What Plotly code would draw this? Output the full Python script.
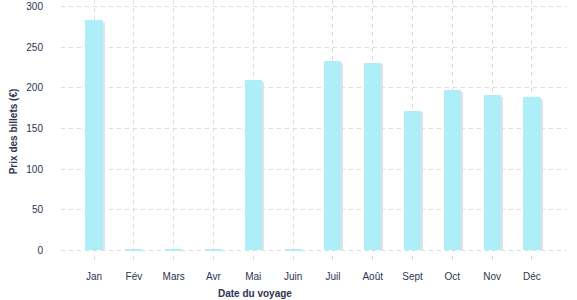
import plotly.graph_objects as go

months = ["Jan", "Fév", "Mars", "Avr", "Mai", "Juin", "Juil", "Août", "Sept", "Oct", "Nov", "Déc"]
prices = [284, 1, 1, 1, 210, 1, 233, 231, 172, 197, 191, 189]

bar_w = 0.43
px_x = 1 / 39.8  # one pixel in category units (approx)

fig = go.Figure()
# subtle shadow behind bars
fig.add_trace(go.Bar(
    x=months, y=[max(p - 2, 0) for p in prices],
    width=bar_w, offset=-bar_w / 2 + 2 * px_x,
    marker=dict(color="#e2e2ea", line=dict(width=0)),
    hoverinfo="skip", showlegend=False,
))
fig.add_trace(go.Bar(
    x=months, y=prices,
    width=bar_w, offset=-bar_w / 2,
    marker=dict(color="#aeeef9", line=dict(width=0)),
    showlegend=False,
))

font_fam = "Liberation Sans, Arial, sans-serif"
txt = "#2b3553"
fig.update_layout(
    width=577, height=300,
    margin=dict(l=61, r=10, t=0, b=37),
    barmode="overlay",
    plot_bgcolor="white", paper_bgcolor="white",
    font=dict(family=font_fam, size=10, color=txt),
    xaxis=dict(
        type="category",
        range=[-0.83, 11.88],
        showgrid=True, gridcolor="#dcdcdc", gridwidth=1, griddash="4px,4px",
        zeroline=False, showline=False, ticks="",
        ticklabelstandoff=6,
        tickfont=dict(size=10, color=txt),
    ),
    yaxis=dict(
        range=[-16, 308.6],
        tickvals=[0, 50, 100, 150, 200, 250, 300],
        showgrid=True, gridcolor="#dcdcdc", gridwidth=1, griddash="4px,4px",
        zeroline=False, showline=False, ticks="",
        ticklabelstandoff=17,
        tickfont=dict(size=10, color=txt),
        title=dict(text="<b>Prix des billets (€)</b>", font=dict(size=10, color=txt), standoff=6),
    ),
    bargap=0,
    annotations=[dict(
        text="<b>Date du voyage</b>", xref="paper", yref="paper",
        x=0.383, y=-30 / 263, xanchor="center", yanchor="middle",
        showarrow=False, font=dict(size=10, color=txt),
    )],
)

fig.write_html("out.html")
